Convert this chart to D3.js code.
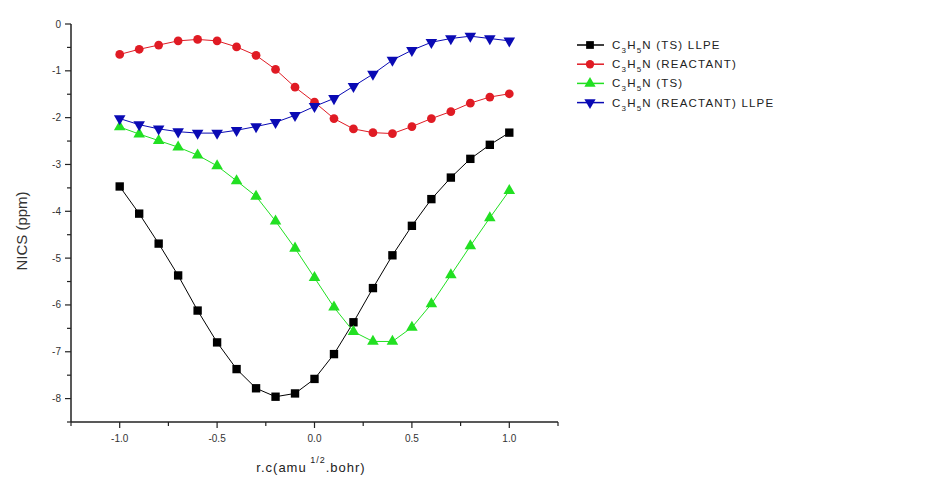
<!DOCTYPE html>
<html>
<head>
<meta charset="utf-8">
<script src="https://cdn.jsdelivr.net/npm/d3@7"></script>
<style>
  body { margin: 0; background: #fff; }
  text { font-family: Arial, "Liberation Sans", sans-serif; }
</style>
</head>
<body>
<svg id="chart" width="939" height="486"></svg>
<script>
// reaction coordinate values
const rc = [-1.0, -0.9, -0.8, -0.7, -0.6, -0.5, -0.4, -0.3, -0.2, -0.1, 0.0,
  0.1, 0.2, 0.3, 0.4, 0.5, 0.6, 0.7, 0.8, 0.9, 1.0];

const tsLlpe = [-3.47, -4.05, -4.69, -5.37, -6.12, -6.80, -7.37, -7.78, -7.96, -7.89, -7.58,
  -7.05, -6.37, -5.64, -4.94, -4.31, -3.74, -3.28, -2.88, -2.58, -2.32];
const reactant = [-0.65, -0.54, -0.45, -0.36, -0.33, -0.36, -0.49, -0.67, -0.97, -1.35, -1.67,
  -2.02, -2.24, -2.32, -2.34, -2.19, -2.02, -1.87, -1.69, -1.56, -1.49];
const ts = [-2.20, -2.35, -2.49, -2.63, -2.80, -3.03, -3.35, -3.68, -4.21, -4.79, -5.42,
  -6.05, -6.57, -6.78, -6.78, -6.48, -5.98, -5.36, -4.74, -4.14, -3.56];
const reactantLlpe = [-2.02, -2.15, -2.24, -2.30, -2.33, -2.33, -2.27, -2.19, -2.10, -1.95, -1.76,
  -1.59, -1.33, -1.07, -0.77, -0.56, -0.39, -0.31, -0.26, -0.31, -0.36];

const xTicks = [-1.0, -0.5, 0.0, 0.5, 1.0];
const yTicks = [0, -1, -2, -3, -4, -5, -6, -7, -8];

const series = [
  { name: '(TS) LLPE', values: tsLlpe, color: '#000000', symbol: d3.symbolSquare },
  { name: '(REACTANT)', values: reactant, color: '#e01b24', symbol: d3.symbolCircle },
  { name: '(TS)', values: ts, color: '#22e022', symbol: d3.symbolTriangle },
  { name: '(REACTANT) LLPE', values: reactantLlpe, color: '#0a0ab4', symbol: 'down' }
];

const svg = d3.select('#chart');

const x = d3.scaleLinear().domain([-1.25, 1.25]).range([71, 558]);
const y = d3.scaleLinear().domain([-8.5, 0]).range([422, 24]);

// axes
const axisColor = '#222';
svg.append('line').attr('x1', x(-1.25)).attr('x2', x(1.25))
  .attr('y1', y(-8.5)).attr('y2', y(-8.5)).attr('stroke', axisColor).attr('stroke-width', 1.5);
svg.append('line').attr('x1', x(-1.25)).attr('x2', x(-1.25))
  .attr('y1', y(-8.5)).attr('y2', y(0)).attr('stroke', axisColor).attr('stroke-width', 1.5);

const xMinor = d3.range(-1.25, 1.26, 0.25);
svg.selectAll('.xminor').data(xMinor).enter().append('line')
  .attr('x1', d => x(d)).attr('x2', d => x(d))
  .attr('y1', y(-8.5)).attr('y2', d => y(-8.5) + (xTicks.some(t => Math.abs(t - d) < 1e-6) ? 6 : 4))
  .attr('stroke', axisColor).attr('stroke-width', 1.2);

const yMinor = d3.range(0, -8.51, -0.5);
svg.selectAll('.yminor').data(yMinor).enter().append('line')
  .attr('y1', d => y(d)).attr('y2', d => y(d))
  .attr('x1', x(-1.25)).attr('x2', d => x(-1.25) - (Number.isInteger(d) ? 6 : 4))
  .attr('stroke', axisColor).attr('stroke-width', 1.2);

svg.selectAll('.xlab').data(xTicks).enter().append('text')
  .attr('x', d => x(d)).attr('y', y(-8.5) + 20)
  .attr('text-anchor', 'middle').attr('font-size', 10).attr('fill', '#333')
  .text(d => d3.format('.1f')(d).replace('−', '-'));

svg.selectAll('.ylab').data(yTicks).enter().append('text')
  .attr('x', x(-1.25) - 10).attr('y', d => y(d) + 3.5)
  .attr('text-anchor', 'end').attr('font-size', 10).attr('fill', '#333')
  .text(d => String(d).replace('−', '-'));

// axis titles
svg.append('text')
  .attr('transform', `translate(27,${(y(0) + y(-8.5)) / 2 + 8}) rotate(-90)`)
  .attr('text-anchor', 'middle').attr('font-size', 15).attr('fill', '#333')
  .text('NICS (ppm)');

const xt = svg.append('text')
  .attr('x', 311).attr('y', 472)
  .attr('text-anchor', 'middle').attr('font-size', 13).attr('fill', '#222')
  .attr('letter-spacing', 1);
xt.append('tspan').text('r.c(amu');
xt.append('tspan').attr('dy', -9).attr('font-size', 9).text(' 1/2');
xt.append('tspan').attr('dy', 9).text('.bohr)');

// lines and markers
const line = d3.line().x((d, i) => x(rc[i])).y(d => y(d));

function markerPath(s, size) {
  if (s === 'down') {
    return d3.symbol().type(d3.symbolTriangle).size(size)();
  }
  return d3.symbol().type(s).size(size)();
}

series.forEach(s => {
  svg.append('path').datum(s.values)
    .attr('d', line).attr('fill', 'none')
    .attr('stroke', s.color).attr('stroke-width', 1);

  const size = s.symbol === d3.symbolSquare ? 70 : s.symbol === d3.symbolCircle ? 60 : 58;
  svg.selectAll(null).data(s.values).enter().append('path')
    .attr('d', markerPath(s.symbol, size))
    .attr('transform', (d, i) => `translate(${x(rc[i])},${y(d)})` + (s.symbol === 'down' ? ' rotate(180)' : ''))
    .attr('fill', s.color);
});

// legend
const legend = svg.append('g');
series.forEach((s, i) => {
  const ly = 45 + i * 19.2;
  legend.append('line').attr('x1', 577).attr('x2', 604).attr('y1', ly).attr('y2', ly)
    .attr('stroke', s.color).attr('stroke-width', 1.5);
  const size = s.symbol === d3.symbolSquare ? 60 : 55;
  legend.append('path').attr('d', markerPath(s.symbol, size))
    .attr('transform', `translate(590,${ly})` + (s.symbol === 'down' ? ' rotate(180)' : ''))
    .attr('fill', s.color);
  const t = legend.append('text').attr('x', 612).attr('y', ly + 4)
    .attr('font-size', 11.5).attr('fill', '#222').attr('letter-spacing', 1.2);
  t.append('tspan').text('C');
  t.append('tspan').attr('dy', 4).attr('font-size', 8).text('3');
  t.append('tspan').attr('dy', -4).text('H');
  t.append('tspan').attr('dy', 4).attr('font-size', 8).text('5');
  t.append('tspan').attr('dy', -4).text('N ' + s.name);
});
</script>
</body>
</html>
